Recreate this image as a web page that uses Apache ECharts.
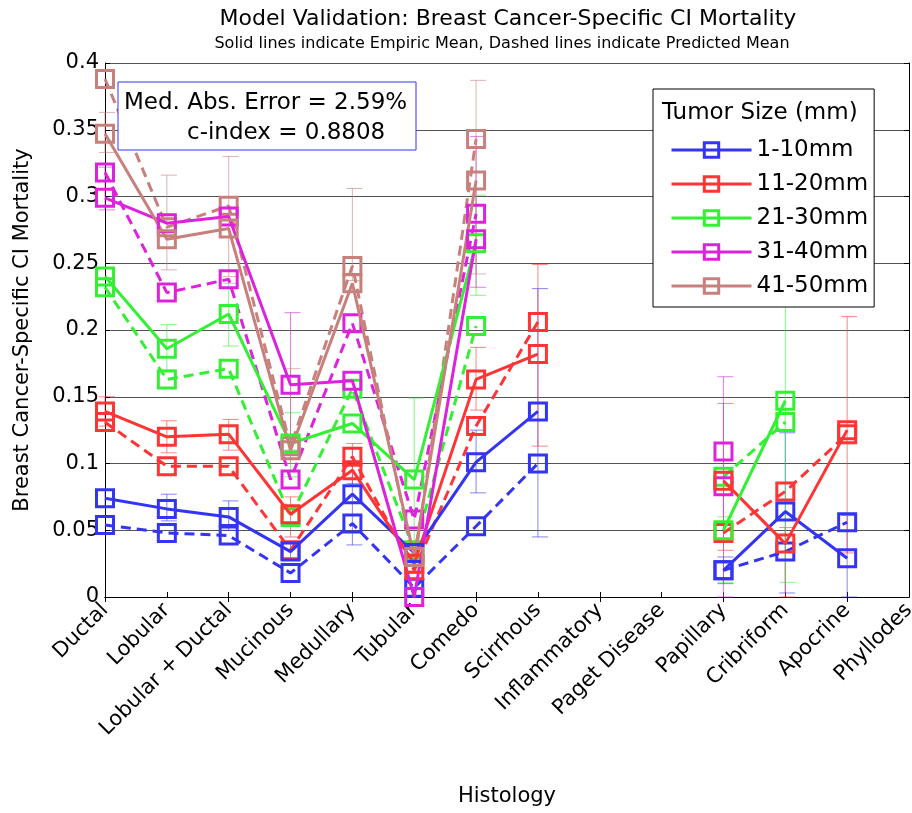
<!DOCTYPE html>
<html><head><meta charset="utf-8">
<script src="https://cdn.jsdelivr.net/npm/echarts@6/dist/echarts.min.js"></script>
<style>html,body{margin:0;padding:0;background:#fff}#c{width:912px;height:813px}</style>
</head><body><div id="c"></div>
<script>
const categories = ['Ductal','Lobular','Lobular + Ductal','Mucinous','Medullary','Tubular','Comedo','Scirrhous','Inflammatory','Paget Disease','Papillary','Cribriform','Apocrine','Phyllodes'];
const groupNames = ['1-10mm','11-20mm','21-30mm','31-40mm','41-50mm'];
const yTicks = [0,0.05,0.1,0.15,0.2,0.25,0.3,0.35,0.4];

// Empiric mean (solid)
const emp1 = [0.074,0.066,0.060,0.034,0.077,0.033,0.101,0.139,null,null,0.020,0.064,0.029,null];
const emp2 = [0.139,0.120,0.122,0.062,0.095,0.025,0.163,0.182,null,null,0.087,0.040,0.125,null];
const emp3 = [0.240,0.186,0.212,0.115,0.130,0.088,0.265,null,null,null,0.050,0.147,null,null];
const emp4 = [0.299,0.280,0.285,0.159,0.162,0.000,0.268,null,null,null,0.109,null,null,null];
const emp5 = [0.347,0.268,0.276,0.110,0.235,0.030,0.312,null,null,null,null,null,null,null];
// Predicted mean (dashed)
const pred1 = [0.054,0.048,0.046,0.018,0.055,0.007,0.053,0.100,null,null,0.020,0.034,0.056,null];
const pred2 = [0.131,0.098,0.098,0.035,0.105,0.020,0.128,0.206,null,null,0.048,0.079,0.122,null];
const pred3 = [0.232,0.163,0.171,0.060,0.156,0.035,0.203,null,null,null,0.090,0.131,null,null];
const pred4 = [0.318,0.228,0.238,0.088,0.205,0.058,0.287,null,null,null,0.083,null,null,null];
const pred5 = [0.388,0.277,0.293,0.113,0.248,0.025,0.343,null,null,null,null,null,null,null];
// Error bars (low / high)
const lo1 = [0.068,0.057,0.050,0.028,0.039,null,0.078,0.045,null,null,0.010,0.003,0.000,null];
const hi1 = [0.080,0.077,0.072,0.040,0.112,null,0.125,0.231,null,null,0.030,0.123,0.061,null];
const lo2 = [0.128,0.108,0.110,0.045,0.085,null,0.140,0.113,null,null,0.035,0.000,0.033,null];
const hi2 = [0.150,0.132,0.133,0.075,0.115,null,0.187,0.249,null,null,0.145,0.052,0.210,null];
const lo3 = [null,0.170,0.188,0.090,null,0.030,0.226,null,null,null,0.011,0.011,null,null];
const hi3 = [null,0.204,0.235,0.138,null,0.149,0.301,null,null,null,0.060,0.300,null,null];
const lo4 = [0.290,null,null,0.110,null,null,0.232,null,null,null,0.000,null,null,null];
const hi4 = [0.322,null,null,0.213,null,null,0.345,null,null,null,0.165,null,null,null];
const lo5 = [0.333,0.245,0.240,0.100,0.237,null,0.242,null,null,null,null,null,null,null];
const hi5 = [0.363,0.316,0.330,0.171,0.306,null,0.387,null,null,null,null,null,null,null];

const colors = ['#3434f4','#ff3434','#34f034','#dd22dd','#c8807c'];
const emps = [emp1,emp2,emp3,emp4,emp5];
const preds = [pred1,pred2,pred3,pred4,pred5];
const los = [lo1,lo2,lo3,lo4,lo5];
const his = [hi1,hi2,hi3,hi4,hi5];

const FONT = 'DejaVu Sans';
const series = [];
for (let g = 0; g < 5; g++) {
  series.push({
    type: 'line', name: groupNames[g], data: emps[g], z: 4,
    symbol: 'rect', symbolSize: 17, showAllSymbol: true, connectNulls: false,
    lineStyle: {color: colors[g], width: 3},
    itemStyle: {color: 'rgba(255,255,255,0)', borderColor: colors[g], borderWidth: 3},
    emphasis: {disabled: true}
  });
}
for (let g = 0; g < 5; g++) {
  series.push({
    type: 'line', name: groupNames[g] + ' predicted', data: preds[g], z: 3,
    symbol: 'rect', symbolSize: 17, showAllSymbol: true, connectNulls: false,
    lineStyle: {color: colors[g], width: 3, type: [10, 6]},
    itemStyle: {color: 'rgba(255,255,255,0)', borderColor: colors[g], borderWidth: 3},
    emphasis: {disabled: true}
  });
}
for (let g = 0; g < 5; g++) {
  const ed = [];
  for (let i = 0; i < categories.length; i++) {
    if (los[g][i] != null && his[g][i] != null) ed.push([i, los[g][i], his[g][i]]);
  }
  series.push({
    type: 'custom', name: 'err' + g, z: 2, silent: true,
    data: ed,
    renderItem: function (params, api) {
      const x = api.value(0);
      const a = api.coord([x, api.value(1)]);
      const b = api.coord([x, api.value(2)]);
      const st = {stroke: colors[g], lineWidth: 1, opacity: 0.6};
      return {type: 'group', children: [
        {type: 'line', shape: {x1: a[0], y1: a[1], x2: b[0], y2: b[1]}, style: st},
        {type: 'line', shape: {x1: a[0] - 6, y1: a[1], x2: a[0] + 10, y2: a[1]}, style: st},
        {type: 'line', shape: {x1: b[0] - 6, y1: b[1], x2: b[0] + 10, y2: b[1]}, style: st}
      ]};
    }
  });
}

const chart = echarts.init(document.getElementById('c'), null, {renderer: 'canvas'});
chart.setOption({
  animation: false,
  backgroundColor: '#fff',
  grid: {left: 105, right: 3, top: 63, bottom: 216, containLabel: false, outerBoundsMode: 'none'},
  legend: {
    data: groupNames, orient: 'vertical', left: 653, top: 89,
    padding: [49, 6, 9, 17], itemGap: 10, itemWidth: 80, itemHeight: 18,
    backgroundColor: '#fff', borderColor: '#000', borderWidth: 1,
    lineStyle: {width: 3},
    itemStyle: {borderWidth: 3},
    textStyle: {fontFamily: FONT, fontSize: 23, color: '#000', lineHeight: 24},
    selectedMode: false, z: 10
  },
  xAxis: [
    {type: 'category', data: categories, boundaryGap: false, position: 'bottom',
     name: 'Histology', nameLocation: 'middle', nameGap: 189,
     nameTextStyle: {fontFamily: FONT, fontSize: 21, color: '#000'},
     axisLine: {lineStyle: {color: '#000', width: 1}},
     axisTick: {inside: true, length: 5, lineStyle: {color: '#000'}},
     axisLabel: {rotate: 45, fontFamily: FONT, fontSize: 21, color: '#000', margin: 10, interval: 0},
     splitLine: {show: false}},
    {type: 'category', data: categories, boundaryGap: false, position: 'top',
     axisLine: {lineStyle: {color: '#000', width: 1}},
     axisTick: {inside: true, length: 5, lineStyle: {color: '#000'}},
     axisLabel: {show: false}, splitLine: {show: false}}
  ],
  yAxis: [
    {type: 'value', min: 0, max: 0.4, interval: 0.05, position: 'left',
     name: 'Breast Cancer-Specific CI Mortality', nameLocation: 'middle', nameGap: 72,
     nameTextStyle: {fontFamily: FONT, fontSize: 21, color: '#000'},
     axisLine: {show: true, lineStyle: {color: '#000', width: 1}},
     axisTick: {show: true, inside: true, length: 5, lineStyle: {color: '#000'}},
     axisLabel: {fontFamily: FONT, fontSize: 21, color: '#000', margin: 6,
       formatter: v => yTicks.includes(+v.toFixed(2)) ? String(+v.toFixed(2)) : ''},
     splitLine: {show: true, lineStyle: {color: '#555', width: 1}}},
    {type: 'value', min: 0, max: 0.4, interval: 0.05, position: 'right',
     axisLine: {show: true, lineStyle: {color: '#000', width: 1}},
     axisTick: {show: true, inside: true, length: 5, lineStyle: {color: '#000'}},
     axisLabel: {show: false}, splitLine: {show: false}}
  ],
  graphic: [
    {type: 'text', x: 508, y: 19, z: 100,
     style: {text: 'Model Validation: Breast Cancer-Specific CI Mortality', font: '22px "DejaVu Sans"', fill: '#000', textAlign: 'center', textVerticalAlign: 'middle'}},
    {type: 'text', x: 502, y: 44, z: 100,
     style: {text: 'Solid lines indicate Empiric Mean, Dashed lines indicate Predicted Mean', font: '16px "DejaVu Sans"', fill: '#000', textAlign: 'center', textVerticalAlign: 'middle'}},
    {type: 'text', x: 662, y: 113, z: 100,
     style: {text: 'Tumor Size (mm)', font: '23px "DejaVu Sans"', fill: '#000', textVerticalAlign: 'middle'}},
    {type: 'rect', shape: {x: 118, y: 82, width: 298, height: 68}, z: 50,
     style: {fill: '#fff', stroke: '#3333ff', lineWidth: 1}},
    {type: 'text', x: 124, y: 103, z: 51,
     style: {text: 'Med. Abs. Error = 2.59%', font: '23px "DejaVu Sans"', fill: '#000', textVerticalAlign: 'middle'}},
    {type: 'text', x: 187, y: 133, z: 51,
     style: {text: 'c-index = 0.8808', font: '23px "DejaVu Sans"', fill: '#000', textVerticalAlign: 'middle'}}
  ],
  series: series
});
</script>
</body></html>
